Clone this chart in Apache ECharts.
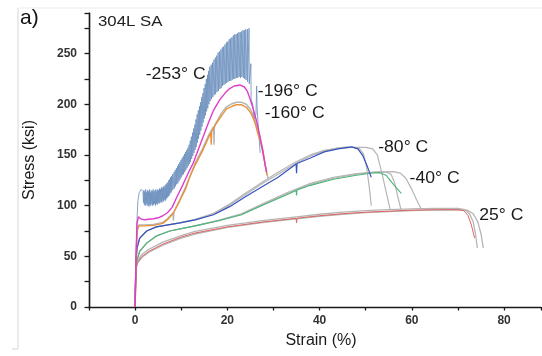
<!DOCTYPE html>
<html>
<head>
<meta charset="utf-8">
<script src="https://cdn.jsdelivr.net/npm/echarts@6/dist/echarts.min.js"></script>
<style>
  html, body { margin: 0; background: #fff; }
  #chart { width: 542px; height: 356px; }
</style>
</head>
<body>
<div id="chart"></div>
<script>
// strain (%) , stress (ksi)
const t253 = [
  [0,0],[0.2,40],[0.4,85],[0.6,105],[0.9,113],[1.3,116],[1.7,114],
  [1.8,103],[1.9,115],[2.0,101],[2.1,114],[2.2,100],[2.3,116],[2.4,102],[2.5,113],[2.6,100],
  [2.7,115],[2.8,101],[2.9,114],[3.0,99],[3.1,116],[3.2,101],[3.3,113],[3.4,100],[3.5,115],
  [3.6,102],[3.7,114],[3.8,100],[3.9,116],[4.0,101],[4.1,114],[4.2,102],[4.3,115],[4.4,100],
  [4.5,116],[4.6,102],[4.7,114],[4.8,101],[4.9,116],[5.0,103],[5.1,115],[5.2,102],[5.3,117],
  [5.4,103],[5.5,116],[5.6,104],[5.7,118],[5.8,103],[5.9,117],[6.0,105],[6.1,119],[6.2,104],
  [6.3,118],[6.4,106],[6.5,120],[6.6,105],[6.7,121],[6.8,107],[6.9,122],[7.0,108],[7.1,123],
  [7.2,109],[7.3,125],[7.4,110],[7.5,126],[7.6,112],[7.7,128],[7.8,113],[7.9,129],[8.0,115],
  [8.1,131],[8.2,116],
  [8.45,133],[8.5,117],[8.7,135],[8.75,119],[8.95,137],[9.0,121],[9.2,139],[9.25,122],
  [9.45,141],[9.5,124],[9.7,143],[9.75,126],[9.95,145],[10.0,128],[10.2,147],[10.25,130],
  [10.45,149],[10.5,131],[10.7,151],[10.75,133],[10.95,153],[11.0,135],[11.2,155],[11.25,137],
  [11.45,157],[11.5,139],[11.7,160],[11.75,141],[11.95,164],[12.0,143],[12.2,168],[12.25,146],
  [12.45,172],[12.5,149],[12.7,176],[12.75,152],[12.95,180],[13.0,155],[13.2,185],[13.25,158],
  [13.45,190],[13.5,162],[13.7,194],[13.75,166],[13.95,198],[14.0,170],[14.2,202],[14.25,174],
  [14.45,207],[14.5,178],[14.7,211],[14.75,182],[14.95,216],[15.0,186],[15.2,220],[15.25,189],
  [15.45,225],[15.5,193],[15.7,229],[15.75,196],[15.95,233],[16.0,200],[16.2,237],[16.25,203],
  [16.5,239],[16.55,205],[16.8,241],[16.85,207],[17.1,244],[17.15,209],[17.4,246],[17.45,210],
  [17.7,248],[17.75,212],[18.0,251],[18.05,213],[18.3,252],[18.35,215],[18.6,254],[18.65,216],
  [18.9,256],[18.95,218],[19.2,257],[19.25,219],[19.5,259],[19.55,220],[19.8,261],[19.85,221],
  [20.1,262],[20.15,222],[20.4,264],[20.45,223],[20.7,265],[20.75,223],[21.0,266],[21.05,224],
  [21.3,268],[21.35,225],[21.6,269],[21.65,225],[21.9,269],[21.95,226],[22.2,270],[22.25,226],
  [22.5,271],[22.55,227],[22.8,271],[22.85,226],[23.1,272],[23.15,227],[23.4,273],[23.45,226],
  [23.7,273],[23.75,225],[24.0,274],[24.05,224],[24.35,274],[24.4,222],[24.7,275],[24.75,220],
  [25.1,240],[25.15,205],[25.5,200],[25.8,186],[26.2,190],[26.35,218],[26.45,196],[26.8,172],[27.1,152]
];
const t196 = [
  [0,0],[0.2,50],[0.4,82],[0.7,89],[1.2,87],[2,86],[3,86.5],[4,87],[5,88],[6,90],[7,93],[8,98],
  [9,108],[10.4,121],[11.5,132],[12.6,142],[13.5,153],[14.5,165],[16,183],[17,194],[18.3,204],
  [19.5,211],[20.5,215.5],[21.5,218],[22.7,219],[23.7,217],[24.3,213],[24.8,207],[25.5,197],
  [26.3,184],[27,170],[27.4,161],[27.8,150],[28.2,140],[28.5,133]
];
const t160 = [
  [0,0],[0.2,45],[0.4,75],[0.8,80],[2,80],[4,80.5],[6,82.5],[7,86],[8.2,92],[9.7,105],[11,117],
  [11.8,128],[13,140],[14.5,153],[16,168],[16.4,172],[16.5,160],[16.6,173],[17.6,181],[18.8,189],
  [19.8,195.5],[21,198],[21.9,199.5],[23,199.5],[24.1,197],[25,192],[25.5,187.5],[26.1,180],
  [26.6,171],[27.2,163],[27.7,155],[28.2,140],[28.6,130]
];
const t160b = [
  [0,0],[0.2,45],[0.4,76],[0.8,81],[2,81],[4,81.5],[6,83.5],[7,87],[8.2,93],[8.3,85],[8.4,93.5],
  [9.7,106],[11,119],[12,130],[13,142],[14.5,155],[16,170],[17,178],[17.1,160],[17.2,179],
  [18.8,192],[19.8,197.5],[21,200.5],[22,202],[23,202],[24.1,200],[25,195],[25.6,189],[26.2,181],
  [26.8,170],[27.3,160],[27.8,150],[28.3,138],[28.8,127]
];
const t80 = [
  [0,0],[0.1,30],[0.2,45],[0.4,58],[1,68],[2.5,75],[4.6,79],[9.7,83],[13,86],[17,91],[20.5,99],
  [24,109],[27.7,119],[31,128],[34.9,141],[35,132],[35.1,141.5],[38,147],[41,153],[44,156],[47,158],
  [48.3,156],[49.4,149],[50.4,138],[51.2,128]
];
const t80b = [
  [0,0],[0.1,30],[0.2,45],[0.4,58],[1,68],[2.5,75],[4.6,79],[9.7,83],[13,86],[17,91.5],[20.5,100.5],
  [24,111],[27.7,122],[31,131],[35,142],[38,149],[41,154],[44,157],[46,158],[48.6,156.5],[49.5,151],
  [50.2,138],[50.8,117],[51.2,100]
];
const t80c = [
  [0,0],[0.1,30],[0.2,45],[0.4,58],[1,68],[2.5,75],[4.6,79],[9.7,83],[13,86.5],[17,92.5],[20.5,101.5],
  [24,112.5],[27.7,123.5],[31,133],[35,143.5],[38,150],[41,154.5],[44,156.5],[47,157.5],[50,157.5],
  [51.5,156],[52.5,150],[53.5,132],[54.5,112],[55.3,96]
];
const t40 = [
  [0,0],[0.1,22],[0.2,36],[0.4,46],[1,55],[2.5,63],[4.6,70],[7.5,75],[13,80],[18,85],[23,91],[28,101],
  [33,111],[34.9,115],[35,110],[35.1,115.5],[38,120],[43,126],[48,130],[51,132],[53,132.5],
  [54.4,130],[56,121],[57.7,112]
];
const t40b = [
  [0,0],[0.1,22],[0.2,36],[0.4,46],[1,55],[2.5,63],[4.6,70],[7.5,75],[13,80],[18,85],[23,91],
  [28,101.5],[33,112],[38,121],[43,127],[48,131],[52,133],[54.5,133],[55.5,131],[56.3,122],[57,108],[57.7,95]
];
const t40c = [
  [0,0],[0.1,22],[0.2,36],[0.4,46],[1,55],[2.5,63],[4.6,70],[7.5,75],[13,80],[18,85.5],[23,92],
  [28,102.5],[33,113],[38,122],[43,128],[48,131.5],[52,133],[56,133.5],[57.5,132],[58.7,127],[60,116],
  [61,106],[62,97]
];
const t25 = [
  [0,0],[0.1,25],[0.2,38],[0.5,44],[1.5,50],[3,55],[6,62],[10,69],[13,73],[20,79],[28,84],[34.9,87.5],
  [35,83],[35.1,87.6],[40,90],[45,92],[50,93.5],[55,94.5],[60,95.5],[65,96],[70,96],[71.3,95],[72.2,90],
  [72.9,81],[73.6,68]
];
const t25b = [
  [0,0],[0.1,26],[0.2,40],[0.5,46],[1.5,52],[3,57],[6,64],[10,70.5],[13,74.5],[20,80.5],[28,85.5],
  [35,89],[40,91.5],[45,93.5],[50,95],[55,96],[60,96.8],[65,97.3],[70,97.2],[71.5,96],[72.5,92],
  [73.3,84],[73.8,72],[74.2,58]
];
const t25c = [
  [0,0],[0.1,24],[0.2,37],[0.5,43],[1.5,49],[3,54],[6,61],[10,68],[13,72],[20,78.5],[28,83.5],[35,87],
  [40,89.5],[45,91.5],[50,93],[55,94],[60,95],[65,95.5],[70,95.8],[72,95.5],[73.3,92],[74.3,84],
  [75,72],[75.5,58]
];

const curveNames = ['-253° C', '-196° C', '-160° C', '-80° C', '-40° C', '25° C'];
const curveLabelAt = [[2.3, 229.6], [26.6, 212.8], [28.1, 191], [52.7, 157.6], [59.5, 127], [74.6, 89.7]];

const xLabels = [0, 20, 40, 60, 80];
const yLabels = [0, 50, 100, 150, 200, 250];
const xMin = -10, xMax = 88, yMin = 0, yMax = 290;

const chart = echarts.init(document.getElementById('chart'));
const FONT = '"Liberation Sans", Arial, sans-serif';
const AXIS = '#1a1a1a';

function line(data, color, width, z, opacity) {
  return {
    type: 'line', data: data, showSymbol: false, symbol: 'none', z: z,
    lineStyle: { color: color, width: width, opacity: opacity == null ? 1 : opacity },
    silent: true
  };
}
const gray = '#b5b5b5';

chart.setOption({
  animation: false,
  grid: { left: 89, right: 1, top: 13, bottom: 49, outerBoundsMode: 'none' },
  xAxis: {
    type: 'value', min: xMin, max: xMax, interval: 10,
    splitLine: { show: false },
    axisLine: { show: true, onZero: false, lineStyle: { color: AXIS, width: 1.3 } },
    axisTick: { show: true, length: 3.5, lineStyle: { color: AXIS, width: 1.3 } },
    axisLabel: {
      margin: 8, fontFamily: FONT, fontSize: 12, color: '#333', fontWeight: 'bold',
      formatter: function (v) { return xLabels.indexOf(v) >= 0 ? String(v) : ''; }
    },
    name: 'Strain (%)', nameLocation: 'middle', nameGap: 26,
    nameTextStyle: { fontFamily: FONT, fontSize: 16, color: AXIS, padding: [0, 0, 0, 12] }
  },
  yAxis: {
    type: 'value', min: yMin, max: yMax, interval: 25,
    splitLine: { show: false },
    axisLine: { show: true, onZero: false, lineStyle: { color: AXIS, width: 1.3 } },
    axisTick: { show: true, length: 4.5, lineStyle: { color: AXIS, width: 1.3 } },
    axisLabel: {
      margin: 12, fontFamily: FONT, fontSize: 12, color: '#333', fontWeight: 'bold',
      formatter: function (v) { return yLabels.indexOf(v) >= 0 ? String(v) : ''; }
    },
    name: 'Stress (ksi)', nameLocation: 'middle', nameGap: 51, nameRotate: 90,
    nameTextStyle: { fontFamily: FONT, fontSize: 16, color: AXIS }
  },
  series: [
    line(t25b, gray, 1.3, 1), line(t25c, gray, 1.3, 1),
    line(t40b, gray, 1.2, 1), line(t40c, gray, 1.2, 1),
    line(t80b, gray, 1.2, 1), line(t80c, gray, 1.2, 1),
    line(t160b, gray, 1.4, 1),
    line(t25, '#e06464', 1, 3),
    line(t40, '#4cb679', 1.1, 3),
    line(t80, '#3552c0', 1.2, 3),
    line(t160, '#e8933a', 1.4, 3),
    line(t253, '#6a8fbd', 1, 2, 0.8),
    line(t196, '#e03ccc', 1.4, 4)
  ]
});

// y axis line traced along the axis from the library's own scale
const yBottom = chart.convertToPixel({ gridIndex: 0 }, [xMin, yMin]);
const yTop = chart.convertToPixel({ gridIndex: 0 }, [xMin, yMax]);

const graphics = [
  { type: 'line', shape: { x1: 18, y1: 8, x2: 542, y2: 8 }, style: { stroke: '#ececec', lineWidth: 1 }, silent: true },
  { type: 'line', shape: { x1: 18, y1: 8, x2: 18, y2: 349 }, style: { stroke: '#d6d6d6', lineWidth: 1 }, silent: true },
  { type: 'line', shape: { x1: 12, y1: 349, x2: 18, y2: 349 }, style: { stroke: '#d6d6d6', lineWidth: 1 }, silent: true },
  { type: 'line', z: 50, silent: true,
    shape: { x1: Math.round(yBottom[0]) + 0.5, y1: yBottom[1], x2: Math.round(yTop[0]) + 0.5, y2: yTop[1] },
    style: { stroke: AXIS, lineWidth: 1.4 } },
  { type: 'text', x: 20, y: 18, style: { text: 'a)', font: '21px ' + FONT, fill: '#111', verticalAlign: 'middle' }, silent: true },
  { type: 'text', x: 98, y: 22, scaleX: 1.2, style: { text: '304L SA', font: '14px ' + FONT, fill: '#222', verticalAlign: 'middle' }, silent: true }
];
curveNames.forEach(function (name, i) {
  const p = chart.convertToPixel({ gridIndex: 0 }, curveLabelAt[i]);
  graphics.push({
    type: 'text', x: p[0], y: p[1], scaleX: 1.1, silent: true,
    style: { text: name, font: '16px ' + FONT, fill: AXIS, verticalAlign: 'middle' }
  });
});
chart.setOption({ graphic: graphics });
</script>
</body>
</html>
